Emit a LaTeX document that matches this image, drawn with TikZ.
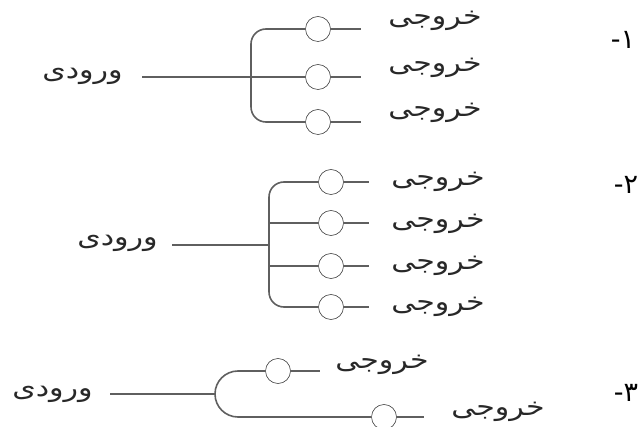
\documentclass[tikz,border=0pt]{standalone}
\usepackage{fontspec}
\newfontfamily\arabicfont[Script=Arabic,FakeStretch=1.2]{DejaVu Sans}
\newfontfamily\numfont{DejaVu Sans}
\TeXXeTstate=1
\definecolor{ln}{RGB}{95,95,95}
\definecolor{txt}{RGB}{40,40,40}
\tikzset{
  wire/.style={draw=ln, line width=1.6pt},
  bulb/.style={circle, draw=ln!70!black, line width=0.6pt, fill=white, minimum size=25pt, inner sep=0pt},
  lbl/.style={font=\arabicfont\fontsize{25}{30}\selectfont, text=txt, inner sep=0pt},
  num/.style={font=\numfont\fontsize{27}{32}\selectfont, text=black, inner sep=0pt},
}
\begin{document}
\begin{tikzpicture}[x=1pt,y=-1pt]
\useasboundingbox (0,0) rectangle (642,427);

% ---------- diagram 1 ----------
\node[lbl] (in1) at (82.5,76) {\beginR ورودی\endR};
\coordinate (s1) at (142,77);
\coordinate (j1) at (251,77);
\node[bulb] (c11) at (318,29) {};
\node[bulb] (c12) at (318,77) {};
\node[bulb] (c13) at (318,122) {};
\coordinate (e11) at (361,29);
\coordinate (e12) at (361,77);
\coordinate (e13) at (361,122);
\draw[wire] (s1) -- (c12.west);
\draw[wire, rounded corners=15pt] (c11.west) -- (j1 |- c11) -- (j1 |- c13) -- (c13.west);
\draw[wire] (c11.east) -- (e11);
\draw[wire] (c12.east) -- (e12);
\draw[wire] (c13.east) -- (e13);
\node[lbl] (o11) at (435,21) {\beginR خروجی\endR};
\node[lbl] (o12) at (435,67.5) {\beginR خروجی\endR};
\node[lbl] (o13) at (435,113) {\beginR خروجی\endR};
\node[num] (n1) at (623,40) {\hbox{-}\hbox{۱}};

% ---------- diagram 2 ----------
\node[lbl] (in2) at (117.5,243.5) {\beginR ورودی\endR};
\coordinate (s2) at (172,245);
\coordinate (j2) at (269,245);
\node[bulb] (c21) at (331,182) {};
\node[bulb] (c22) at (331,223) {};
\node[bulb] (c23) at (331,266) {};
\node[bulb] (c24) at (331,307) {};
\coordinate (e21) at (369,182);
\coordinate (e22) at (369,223);
\coordinate (e23) at (369,266);
\coordinate (e24) at (369,307);
\draw[wire] (s2) -- (j2);
\draw[wire, rounded corners=15pt] (c21.west) -- (j2 |- c21) -- (j2 |- c24) -- (c24.west);
\draw[wire] (j2 |- c22) -- (c22.west);
\draw[wire] (j2 |- c23) -- (c23.west);
\draw[wire] (c21.east) -- (e21);
\draw[wire] (c22.east) -- (e22);
\draw[wire] (c23.east) -- (e23);
\draw[wire] (c24.east) -- (e24);
\node[lbl] (o21) at (438,181.5) {\beginR خروجی\endR};
\node[lbl] (o22) at (438,223.5) {\beginR خروجی\endR};
\node[lbl] (o23) at (438,266) {\beginR خروجی\endR};
\node[lbl] (o24) at (438,306.5) {\beginR خروجی\endR};
\node[num] (n2) at (626,185) {\hbox{-}\hbox{۲}};

% ---------- diagram 3 ----------
\node[lbl] (in3) at (52.5,394) {\beginR ورودی\endR};
\coordinate (s3) at (110,394);
\coordinate (j3) at (215,394);
\node[bulb] (c31) at (278,371) {};
\node[bulb] (c32) at (384,417) {};
\coordinate (e31) at (320,371);
\coordinate (e32) at (424,417);
\draw[wire] (s3) -- (j3);
\draw[wire, rounded corners=23pt] (c31.west) -- (j3 |- c31) -- (j3 |- c32) -- (c32.west);
\draw[wire] (c31.east) -- (e31);
\draw[wire] (c32.east) -- (e32);
\node[lbl] (o31) at (382,365) {\beginR خروجی\endR};
\node[lbl] (o32) at (498,412) {\beginR خروجی\endR};
\node[num] (n3) at (626,393) {\hbox{-}\hbox{۳}};
\end{tikzpicture}
\end{document}
